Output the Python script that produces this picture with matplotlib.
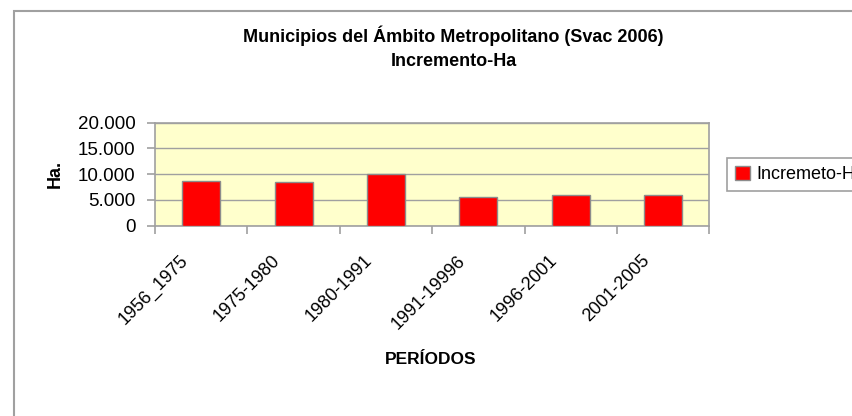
import matplotlib
matplotlib.use("Agg")
import matplotlib.pyplot as plt
from matplotlib.patches import Rectangle, Patch
from matplotlib.transforms import ScaledTranslation
import numpy as np

plt.rcParams['font.family'] = ['Liberation Sans', 'DejaVu Sans']

categories = ["1956_1975", "1975-1980", "1980-1991", "1991-19996", "1996-2001", "2001-2005"]
values = [8700, 8500, 10000, 5600, 5950, 5950]
y_ticks = [0, 5000, 10000, 15000, 20000]
y_tick_labels = ["0", "5.000", "10.000", "15.000", "20.000"]
series_name = "Incremeto-Ha"
title_lines = ["Municipios del Ámbito Metropolitano (Svac 2006)", "Incremento-Ha"]

W, H = 852, 416
fig = plt.figure(figsize=(W / 100, H / 100), dpi=100)
fig.patch.set_facecolor("white")

# outer chart frame
fig.patches.append(Rectangle((14 / W, -0.1), 1.2, 1 - 11 / H + 0.1, transform=fig.transFigure,
                             facecolor="none", edgecolor="#a0a0a0", linewidth=1.5))

ax = fig.add_axes([155 / W, 1 - 225.7 / H, 554.3 / W, 103 / H])
ax.set_facecolor("#FFFFCC")
x = np.arange(len(categories))
ax.bar(x, values, width=0.41, color="#FF0000", edgecolor="#8c8c8c", linewidth=1.0, zorder=3)
ax.set_xlim(-0.5, len(categories) - 0.5)
ax.set_ylim(0, 20000)
ax.set_yticks(y_ticks)
ax.set_yticklabels(y_tick_labels, fontsize=13.5)
ax.yaxis.grid(True, color="#a0a0a0", linewidth=1.0, zorder=0)
for s in ax.spines.values():
    s.set_color("#a0a0a0")
    s.set_linewidth(1.2)
ax.tick_params(axis="y", length=6, color="#a0a0a0", width=1.2, pad=8)

ax.set_xticks(x)
ax.set_xticklabels(categories, rotation=45, ha="right", va="top", fontsize=13)
ax.tick_params(axis="x", which="major", length=0, pad=19)
ax.set_xticks(np.arange(-0.5, len(categories)), minor=True)
ax.tick_params(axis="x", which="minor", length=6, color="#a0a0a0", width=1.2)
off = ScaledTranslation(-10 / 100, 0, fig.dpi_scale_trans)
for lab in ax.get_xticklabels():
    lab.set_transform(lab.get_transform() + off)

ax.set_ylabel("Ha.", fontsize=13, fontweight="bold", labelpad=10)
fig.text(431 / W, 1 - 360 / H, "PERÍODOS", fontsize=12.5, fontweight="bold", ha="center", va="center")

fig.text(453.5 / W, 1 - 36 / H, title_lines[0], fontsize=13, fontweight="bold", ha="center", va="center")
fig.text(453.5 / W, 1 - 61 / H, title_lines[1], fontsize=13, fontweight="bold", ha="center", va="center")

handles = [Patch(facecolor="#FF0000", edgecolor="#8c8c8c", linewidth=1.0)]
leg = fig.legend(handles, [series_name], loc="upper left", bbox_to_anchor=(727 / W, 1 - 158 / H),
                 fontsize=13, frameon=True, fancybox=False, framealpha=1, borderpad=0.45,
                 handlelength=0.8, handleheight=0.8, handletextpad=0.4, borderaxespad=0)
leg.get_frame().set_edgecolor("#a0a0a0")
leg.get_frame().set_linewidth(1.2)

fig.savefig("out.png", dpi=100)
